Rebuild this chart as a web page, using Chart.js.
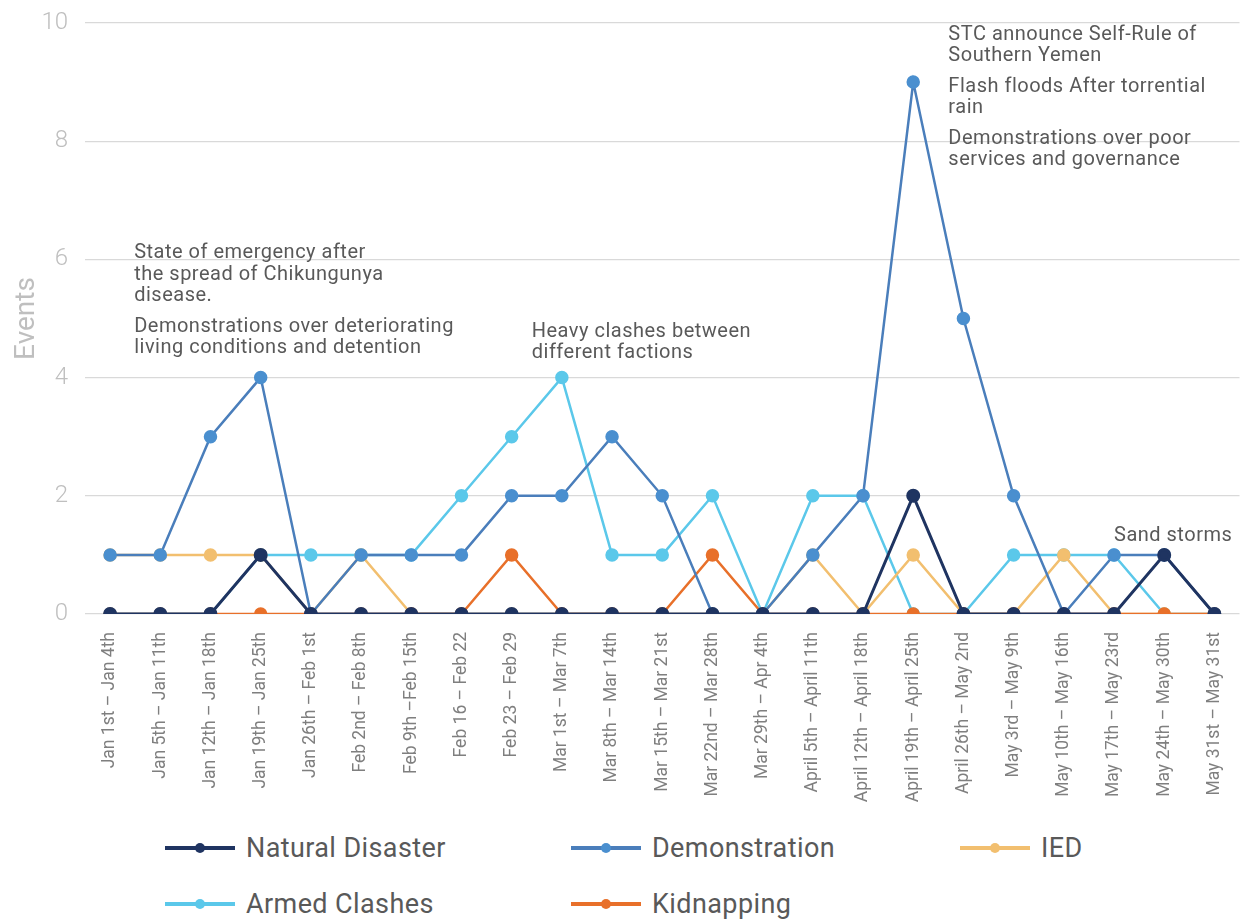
<!DOCTYPE html>
<html>
<head>
<meta charset="utf-8">
<script src="https://cdn.jsdelivr.net/npm/chart.js@4"></script>
<style>
  body { margin: 0; background: #fff; font-family: Roboto, sans-serif; }
  #wrap { position: relative; width: 1248px; height: 920px; }
  #box { position: absolute; left: 0; top: 0; width: 1248px; height: 820px; }
  #legend { position: absolute; left: 165px; top: 820px; display: grid;
            grid-template-columns: 406px 389px 280px; grid-auto-rows: 56px; }
  .item { display: flex; align-items: center; color: #595959; font-size: 27px; letter-spacing: 0.4px; }
  .sym { position: relative; width: 70px; height: 4px; margin-right: 11px; }
  .sym i { position: absolute; left: 30px; top: -3px; width: 10px; height: 10px; border-radius: 50%; }
</style>
</head>
<body>
<div id="wrap">
  <div id="box"><canvas id="chart"></canvas></div>
  <div id="legend"></div>
</div>
<script>
const categories = [
  'Jan 1st – Jan 4th', 'Jan 5th – Jan 11th', 'Jan 12th – Jan 18th', 'Jan 19th – Jan 25th',
  'Jan 26th – Feb 1st', 'Feb 2nd – Feb 8th', 'Feb 9th –Feb 15th', 'Feb 16 – Feb 22',
  'Feb 23 – Feb 29', 'Mar 1st – Mar 7th', 'Mar 8th – Mar 14th', 'Mar 15th – Mar 21st',
  'Mar 22nd – Mar 28th', 'Mar 29th – Apr 4th', 'April 5th – April 11th', 'April 12th – April 18th',
  'April 19th – April 25th', 'April 26th – May 2nd', 'May 3rd – May 9th', 'May 10th – May 16th',
  'May 17th – May 23rd', 'May 24th – May 30th', 'May 31st – May 31st'
];
const naturalDisaster = [0,0,0,1,0,0,0,0,0,0,0,0,0,0,0,0,2,0,0,0,0,1,0];
const demonstration   = [1,1,3,4,0,1,1,1,2,2,3,2,0,0,1,2,9,5,2,0,1,1,0];
const ied             = [1,1,1,1,0,1,0,0,0,0,0,0,0,0,1,0,1,0,0,1,0,0,0];
const armedClashes    = [0,0,0,1,1,1,1,2,3,4,1,1,2,0,2,2,0,0,1,1,1,0,0];
const kidnapping      = [0,0,0,0,0,0,0,0,1,0,0,0,1,0,0,0,0,0,0,0,0,0,0];
const yTicks = [0, 2, 4, 6, 8, 10];

// notes: category index, y value of first line, text lines ('' = paragraph gap)
const notes = [
  { at: 0.48, y: 6.1, lines: ['State of emergency after', 'the spread of Chikungunya', 'disease.', '', 'Demonstrations over deteriorating', 'living conditions and detention'] },
  { at: 8.4, y: 4.78, lines: ['Heavy clashes between', 'different factions'] },
  { at: 16.7, y: 9.8, lines: ['STC announce Self-Rule of', 'Southern Yemen', '', 'Flash floods After torrential', 'rain', '', 'Demonstrations over poor', 'services and governance'] },
  { at: 20, y: 1.32, lines: ['Sand storms'] }
];

function series(label, data, line, point, width) {
  return {
    label: label, data: data,
    borderColor: line, backgroundColor: point,
    pointBackgroundColor: point, pointBorderColor: point,
    borderWidth: width, pointRadius: 5.5, pointHoverRadius: 5.5,
    tension: 0
  };
}

// first dataset is painted on top
const datasets = [
  series('Natural Disaster', naturalDisaster, '#1f3461', '#1f3461', 3),
  series('Demonstration', demonstration, '#4a7ebb', '#4a8fcf', 2.5),
  series('Kidnapping', kidnapping, '#e8702a', '#e8702a', 2.5),
  series('IED', ied, '#f2bf6f', '#f2bf6f', 2.5),
  series('Armed Clashes', armedClashes, '#5bc8ea', '#5bc8ea', 2.5)
];
const legendOrder = ['Natural Disaster', 'Demonstration', 'IED', 'Armed Clashes', 'Kidnapping'];

const notesPlugin = {
  id: 'notes',
  afterDraw(chart) {
    const ctx = chart.ctx;
    const xs = chart.scales.x, ys = chart.scales.y;
    ctx.save();
    ctx.font = '20px Roboto';
    ctx.letterSpacing = '0.5px';
    ctx.fillStyle = '#595959';
    ctx.textBaseline = 'middle';
    notes.forEach(n => {
      const step = xs.getPixelForValue(1) - xs.getPixelForValue(0);
      const x = xs.getPixelForValue(0) + n.at * step;
      let y = ys.getPixelForValue(n.y);
      n.lines.forEach(t => {
        if (t === '') { y += 9; return; }
        ctx.fillText(t, x, y);
        y += 21.5;
      });
    });
    ctx.restore();
  }
};

new Chart(document.getElementById('chart'), {
  type: 'line',
  data: { labels: categories, datasets: datasets },
  options: {
    responsive: true,
    maintainAspectRatio: false,
    animation: false,
    layout: { padding: { top: 23, right: 7 } },
    plugins: { legend: { display: false }, tooltip: { enabled: false } },
    scales: {
      x: {
        offset: true,
        grid: { display: false },
        border: { display: false },
        ticks: {
          autoSkip: false, maxRotation: 90, minRotation: 90, padding: 10,
          color: '#7f7f7f', font: { family: 'Roboto', size: 17.5 }
        },
        afterFit(axis) { axis.height = 206; axis.paddingLeft = 0; axis.paddingRight = 0; }
      },
      y: {
        min: 0, max: 10,
        afterBuildTicks(axis) { axis.ticks = yTicks.map(v => ({ value: v })); },
        grid: { color: '#d9d9d9', lineWidth: 1.3, drawTicks: false },
        border: { display: false },
        ticks: { padding: 17, color: '#bfbfbf', font: { family: 'Roboto', size: 24, weight: 300 } },
        title: { display: true, text: 'Events', color: '#bfbfbf', font: { family: 'Roboto', size: 28 }, padding: { top: 10, bottom: 4 } },
        afterFit(axis) { axis.width = 85; axis.paddingTop = 0; axis.paddingBottom = 0; }
      }
    }
  },
  plugins: [notesPlugin]
});

const legend = document.getElementById('legend');
legendOrder.forEach(name => {
  const ds = datasets.find(d => d.label === name);
  const item = document.createElement('div');
  item.className = 'item';
  item.innerHTML = '<span class="sym" style="background:' + ds.borderColor + '"><i style="background:' +
    ds.pointBackgroundColor + '"></i></span><span>' + name + '</span>';
  legend.appendChild(item);
});
</script>
</body>
</html>
